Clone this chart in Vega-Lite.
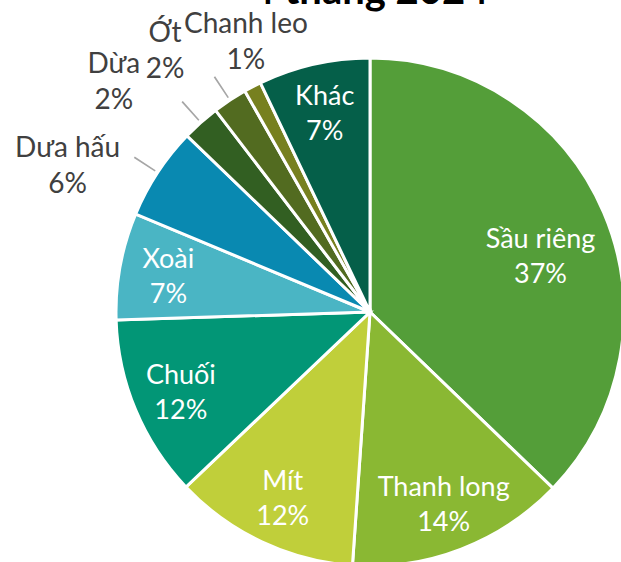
{
  "$schema": "https://vega.github.io/schema/vega-lite/v6.json",
  "width": 740,
  "height": 624,
  "autosize": {"type": "none"},
  "padding": {"left": 0, "top": 0, "right": -119, "bottom": -62},
  "background": "#ffffff",
  "view": {"stroke": null},
  "layer": [
    {
      "data": {
        "values": [
          {"order": 1, "name": "Sầu riêng", "value": 37.2, "pct": 37},
          {"order": 2, "name": "Thanh long", "value": 13.9, "pct": 14},
          {"order": 3, "name": "Mít", "value": 11.8, "pct": 12},
          {"order": 4, "name": "Chuối", "value": 11.6, "pct": 12},
          {"order": 5, "name": "Xoài", "value": 6.8, "pct": 7},
          {"order": 6, "name": "Dưa hấu", "value": 5.9, "pct": 6},
          {"order": 7, "name": "Dừa", "value": 2.4, "pct": 2},
          {"order": 8, "name": "Ớt", "value": 2.2, "pct": 2},
          {"order": 9, "name": "Chanh leo", "value": 1.1, "pct": 1},
          {"order": 10, "name": "Khác", "value": 7.1, "pct": 7}
        ]
      },
      "transform": [
        {"window": [{"op": "sum", "field": "value", "as": "end"}], "sort": [{"field": "order"}], "frame": [null, 0]},
        {"calculate": "datum.end - datum.value", "as": "start"},
        {"calculate": "datum.end - datum.value / 2", "as": "mid"},
        {"calculate": "datum.mid - 0.05", "as": "l0"},
        {"calculate": "datum.mid + 0.05", "as": "l1"},
        {"calculate": "datum.name + '\\n' + datum.pct + '%'", "as": "label"}
      ],
      "layer": [
        {
          "mark": {"type": "arc", "outerRadius": 254, "stroke": "#ffffff", "strokeWidth": 3},
          "encoding": {
            "theta": {"field": "start", "type": "quantitative", "stack": null, "scale": {"domain": [0, 100], "range": [0, 6.283185307179586]}},
            "theta2": {"field": "end"},
            "color": {
              "field": "name",
              "type": "nominal",
              "legend": null,
              "scale": {
                "domain": ["Sầu riêng", "Thanh long", "Mít", "Chuối", "Xoài", "Dưa hấu", "Dừa", "Ớt", "Chanh leo", "Khác"],
                "range": ["#549E39", "#8AB833", "#C0CF3A", "#029676", "#4AB5C4", "#0989B1", "#325F22", "#526B20", "#77801F", "#055F49"]
              }
            }
          }
        },
        {
          "transform": [{"filter": {"field": "name", "oneOf": ["Dưa hấu", "Dừa", "Ớt"]}}],
          "mark": {"type": "arc", "innerRadius": 257, "outerRadius": 282, "color": "#A6A6A6"},
          "encoding": {
            "theta": {"field": "l0", "type": "quantitative", "stack": null},
            "theta2": {"field": "l1"}
          }
        },
        {
          "transform": [{"filter": {"field": "name", "oneOf": ["Thanh long", "Mít", "Chuối", "Xoài", "Khác"]}}],
          "mark": {"type": "text", "radius": 205, "font": "Lato", "fontSize": 27, "lineHeight": 35, "lineBreak": "\n", "color": "#ffffff", "align": "center", "baseline": "middle", "dy": -15},
          "encoding": {
            "theta": {"field": "mid", "type": "quantitative", "stack": null},
            "text": {"field": "label", "type": "nominal"}
          }
        },
        {
          "transform": [{"filter": {"field": "name", "equal": "Sầu riêng"}}],
          "mark": {"type": "text", "radius": 182, "font": "Lato", "fontSize": 27, "lineHeight": 35, "lineBreak": "\n", "color": "#ffffff", "align": "center", "baseline": "middle", "dx": 3, "dy": -1},
          "encoding": {
            "theta": {"field": "mid", "type": "quantitative", "stack": null},
            "text": {"field": "label", "type": "nominal"}
          }
        },
        {
          "transform": [{"filter": {"field": "name", "equal": "Dưa hấu"}}],
          "mark": {"type": "text", "radius": 290, "font": "Lato", "fontSize": 28, "lineHeight": 36, "lineBreak": "\n", "color": "#404040", "align": "center", "baseline": "middle", "dx": -60, "dy": -4},
          "encoding": {
            "theta": {"field": "mid", "type": "quantitative", "stack": null},
            "text": {"field": "label", "type": "nominal"}
          }
        },
        {
          "transform": [{"filter": {"field": "name", "equal": "Dừa"}}],
          "mark": {"type": "text", "radius": 290, "font": "Lato", "fontSize": 28, "lineHeight": 36, "lineBreak": "\n", "color": "#404040", "align": "center", "baseline": "middle", "dx": -63, "dy": -31},
          "encoding": {
            "theta": {"field": "mid", "type": "quantitative", "stack": null},
            "text": {"field": "label", "type": "nominal"}
          }
        },
        {
          "transform": [{"filter": {"field": "name", "equal": "Ớt"}}],
          "mark": {"type": "text", "radius": 290, "font": "Lato", "fontSize": 28, "lineHeight": 36, "lineBreak": "\n", "color": "#404040", "align": "center", "baseline": "middle", "dx": -45, "dy": -36},
          "encoding": {
            "theta": {"field": "mid", "type": "quantitative", "stack": null},
            "text": {"field": "label", "type": "nominal"}
          }
        },
        {
          "transform": [{"filter": {"field": "name", "equal": "Chanh leo"}}],
          "mark": {"type": "text", "radius": 290, "font": "Lato", "fontSize": 28, "lineHeight": 36, "lineBreak": "\n", "color": "#404040", "align": "center", "baseline": "middle", "dx": 10, "dy": -30},
          "encoding": {
            "theta": {"field": "mid", "type": "quantitative", "stack": null},
            "text": {"field": "label", "type": "nominal"}
          }
        }
      ]
    },
    {
      "data": {"values": [{"title": "4 tháng 2024"}]},
      "mark": {"type": "text", "font": "Lato", "fontSize": 40, "fontWeight": "bold", "color": "#000000", "align": "center", "baseline": "alphabetic", "radius": 308, "theta": 0},
      "encoding": {
        "text": {"field": "title", "type": "nominal"}
      }
    }
  ]
}
